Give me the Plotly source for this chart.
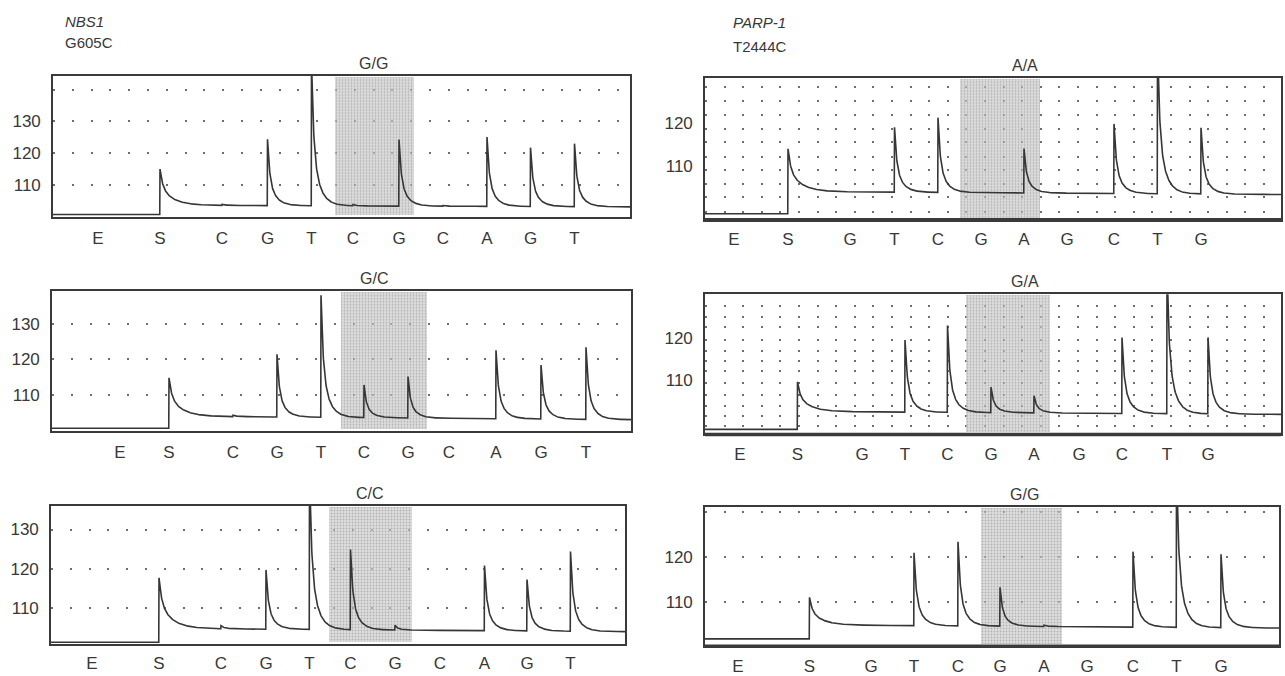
import numpy as np
import plotly.graph_objects as go

# ---------------- data ----------------
nbs1_disp = ["E", "S", "C", "G", "T", "C", "G", "C", "A", "G", "T"]
parp1_disp = ["E", "S", "G", "T", "C", "G", "A", "G", "C", "T", "G"]

genotypes = ["G/G", "G/C", "C/C", "A/A", "G/A", "G/G"]

# dispensation times (arbitrary run-time units) per panel
pos_nbs1_gg = [45, 107, 169, 214.5, 258.5, 300, 346, 390, 434, 477.5, 521.5]
pos_nbs1_gc = [68, 117, 181, 225, 269, 312, 356, 397, 444, 489, 534]
pos_nbs1_cc = [41, 108, 170, 215, 258.5, 299.5, 344, 389, 433.5, 476, 519.5]
pos_parp_aa = [29, 83, 145, 189.5, 233, 276, 319, 362, 409, 452.5, 496]
pos_parp_ga = [35, 92.5, 157, 200, 242.5, 286, 329, 374, 417, 462, 503]
pos_parp_gg = [33, 104.5, 166, 209, 253, 295, 339, 382, 428, 471.5, 516]

# peak heights above baseline (light units) for each dispensation
h_nbs1_gg = [0, 11.4, 0.3, 20.9, 45, 0.4, 20.9, 0.2, 21.8, 18.5, 19.8]
h_nbs1_gc = [0, 10.8, 0.4, 17.7, 34.4, 9.2, 11.7, 0, 19.3, 15.2, 20.3]
h_nbs1_cc = [0, 12.9, 0.8, 15.1, 40, 20.4, 1.2, 0, 16.6, 13.1, 20.3]
h_parp_aa = [0, 10.0, 0, 15.2, 17.5, 0, 10.4, 0, 16.3, 35, 15.5]
h_parp_ga = [0, 7.1, 0, 17.3, 20.8, 6.1, 4.1, 0, 18.2, 35, 18.3]
h_parp_gg = [0, 6.1, 0, 16.1, 18.6, 8.6, 0.3, 0, 16.7, 35, 16.2]

# baselines: before substrate, after substrate (start, end)
base_nbs1_gg = [100.7, 103.6, 103.1]
base_nbs1_gc = [100.6, 104.0, 103.0]
base_nbs1_cc = [101.3, 104.8, 104.0]
base_parp_aa = [98.8, 104.0, 103.3]
base_parp_ga = [98.1, 102.4, 101.7]
base_parp_gg = [101.9, 105.0, 104.3]

# axis ranges
xr_nbs1 = [[0, 577], [0, 579], [0, 574]]
xr_parp = [[0, 576], [0, 576], [0, 574]]
yr_nbs1 = [[100.0, 144.4], [99.7, 139.2], [100.8, 136.0]]
yr_parp = [[97.4, 130.7], [96.9, 130.5], [100.3, 131.1]]

# tick labels and dotted grid rows
ylab_nbs1 = [110, 120, 130]
ylab_parp = [110, 120]
rows_nbs1 = [[110, 120, 130, 140], [110, 120, 130], [110, 120, 130]]
rows_parp = [[99.3, 102.6, 105.8, 109.0, 112.2, 115.5, 118.7, 122.0, 125.2, 128.4],
             [99.0, 101.4, 103.8, 106.4, 109.3, 112.1, 114.5, 116.9, 119.5, 122.6, 125.0, 127.6],
             [110, 120, 130]]

# shaded (variable position) windows
shade_nbs1 = [[282, 361], [289, 375], [278, 361]]
shade_parp = [[255, 335], [261, 345], [276, 357]]

# ---------------- layout geometry (pixels of 1285x676) ----------------
W, H = 1285, 676
boxes = [  # x0, x1, y_top, y_bottom
    (53, 630, 76, 218), (52, 631, 293, 434), (51, 625, 509, 648),
    (705, 1281, 78, 221), (705, 1281, 296, 437), (705, 1279, 510, 650),
]
label_standoff = [5, 4, 3, 3, 3, 4]

panels = [
    (nbs1_disp, pos_nbs1_gg, h_nbs1_gg, base_nbs1_gg, xr_nbs1[0], yr_nbs1[0], ylab_nbs1, rows_nbs1[0], shade_nbs1[0], False),
    (nbs1_disp, pos_nbs1_gc, h_nbs1_gc, base_nbs1_gc, xr_nbs1[1], yr_nbs1[1], ylab_nbs1, rows_nbs1[1], shade_nbs1[1], False),
    (nbs1_disp, pos_nbs1_cc, h_nbs1_cc, base_nbs1_cc, xr_nbs1[2], yr_nbs1[2], ylab_nbs1, rows_nbs1[2], shade_nbs1[2], False),
    (parp1_disp, pos_parp_aa, h_parp_aa, base_parp_aa, xr_parp[0], yr_parp[0], ylab_parp, rows_parp[0], shade_parp[0], True),
    (parp1_disp, pos_parp_ga, h_parp_ga, base_parp_ga, xr_parp[1], yr_parp[1], ylab_parp, rows_parp[1], shade_parp[1], True),
    (parp1_disp, pos_parp_gg, h_parp_gg, base_parp_gg, xr_parp[2], yr_parp[2], ylab_parp, rows_parp[2], shade_parp[2], True),
]


def pyrogram(pos, heights, base, xrange_):
    """Render the light trace: step at substrate + decaying peaks."""
    x = np.arange(xrange_[0], xrange_[1] + 0.25, 0.25)
    s = pos[1]
    b0, b1, b2 = base
    y = np.where(x < s, b0, b1 + (b2 - b1) * (x - s) / (xrange_[1] - s))
    for i, (p, h) in enumerate(zip(pos, heights)):
        if h == 0:
            continue
        dx = x - p
        m = dx >= 0
        d = np.where(m, dx, 0)
        if i == 1:
            shape = 0.45 * np.exp(-d / 2.5) + 0.55 * np.exp(-d / 12)
        else:
            shape = 0.55 * np.exp(-d / 2.0) + 0.45 * np.exp(-d / 7.0)
        y = y + np.where(m, h * shape, 0)
    return x, y


FONT = "Liberation Sans, Arial, Helvetica, sans-serif"
TXT = "#383838"
LINE = "#3a3a3a"

fig = go.Figure()
layout = dict(width=W, height=H, margin=dict(l=0, r=0, t=0, b=0),
              paper_bgcolor="white", plot_bgcolor="white", showlegend=False,
              font=dict(family=FONT, color=TXT))
shapes = []
annotations = []

for k, (disp, pos, hts, base, xr, yr, ylab, rows, shade, right) in enumerate(panels):
    n = k + 1
    xa = "x" if n == 1 else f"x{n}"
    ya = "y" if n == 1 else f"y{n}"
    x0, x1, yt, yb = boxes[k]

    # shaded window
    fig.add_trace(go.Bar(
        x=[(shade[0] + shade[1]) / 2], y=[(yr[1] - yr[0]) * 0.975], base=[yr[0] + (yr[1] - yr[0]) * 0.015],
        width=[shade[1] - shade[0]], xaxis=xa, yaxis=ya, hoverinfo="skip",
        marker=dict(color="rgba(195,195,195,0.65)", line_width=0,
                    pattern=dict(shape=".", fgcolor="rgba(85,85,85,0.65)",
                                 bgcolor="rgba(205,205,205,0.65)", size=3, solidity=0.3)),
    ))
    # trace
    tx, ty = pyrogram(pos, hts, base, xr)
    fig.add_trace(go.Scatter(x=tx, y=ty, mode="lines", xaxis=xa, yaxis=ya,
                             line=dict(color="#363636", width=1.6), hoverinfo="skip"))

    period = 18.6 if right else 18.8
    dash = f"2px,{period - 2:.1f}px"
    xaxis = dict(domain=[x0 / W, x1 / W], range=xr, anchor=ya,
                 tickmode="array", tickvals=pos, ticktext=disp, ticks="",
                 tickfont=dict(size=17, family=FONT, color=TXT),
                 ticklabelstandoff=label_standoff[k],
                 showgrid=False, zeroline=False, showline=True, mirror=True,
                 linecolor=LINE, linewidth=1.6, fixedrange=True)
    yaxis = dict(domain=[1 - yb / H, 1 - yt / H], range=yr, anchor=xa,
                 ticks="", tickfont=dict(size=17, family=FONT, color=TXT),
                 ticklabelstandoff=7, zeroline=False, showline=True, mirror=True,
                 linecolor=LINE, linewidth=1.6, fixedrange=True)
    if set(rows) >= set(ylab):
        yaxis.update(tickmode="array", tickvals=rows,
                     ticktext=[str(v) if v in ylab else "" for v in rows],
                     showgrid=True, gridcolor="#6e6e6e", gridwidth=2, griddash=dash)
    else:
        yaxis.update(tickmode="array", tickvals=ylab, ticktext=[str(v) for v in ylab],
                     showgrid=False,
                     minor=dict(tickmode="array", tickvals=rows, showgrid=True, ticks="",
                                gridcolor="#6e6e6e", gridwidth=2, griddash=dash))
    layout["xaxis" if n == 1 else f"xaxis{n}"] = xaxis
    layout["yaxis" if n == 1 else f"yaxis{n}"] = yaxis

    if right:
        shapes.append(dict(type="line", xref="paper", yref="paper",
                           x0=x0 / W, x1=x1 / W, y0=1 - yb / H, y1=1 - yb / H,
                           line=dict(color=LINE, width=3.5)))

    # genotype label
    annotations.append(dict(xref="paper", yref="paper", x=((x0 + x1) / 2 + 32) / W,
                            y=1 - (yt - 2) / H, yanchor="bottom", xanchor="center",
                            text=genotypes[k], showarrow=False,
                            font=dict(size=16, family=FONT, color=TXT)))

# gene / SNP labels
for (gx, gy, txt) in [(63, 22, "<i>NBS1</i>"), (63, 43, "G605C"),
                      (731, 23, "<i>PARP-1</i>"), (731, 47, "T2444C")]:
    annotations.append(dict(xref="paper", yref="paper", x=gx / W, y=1 - gy / H,
                            xanchor="left", yanchor="middle", text=txt, showarrow=False,
                            font=dict(size=15, family=FONT, color=TXT)))

layout["shapes"] = shapes
layout["annotations"] = annotations
layout["bargap"] = 0
fig.update_layout(**layout)

fig.write_html("out.html", config={"displayModeBar": False},
               post_script="document.body.style.margin='0';document.body.style.overflow='hidden';")
